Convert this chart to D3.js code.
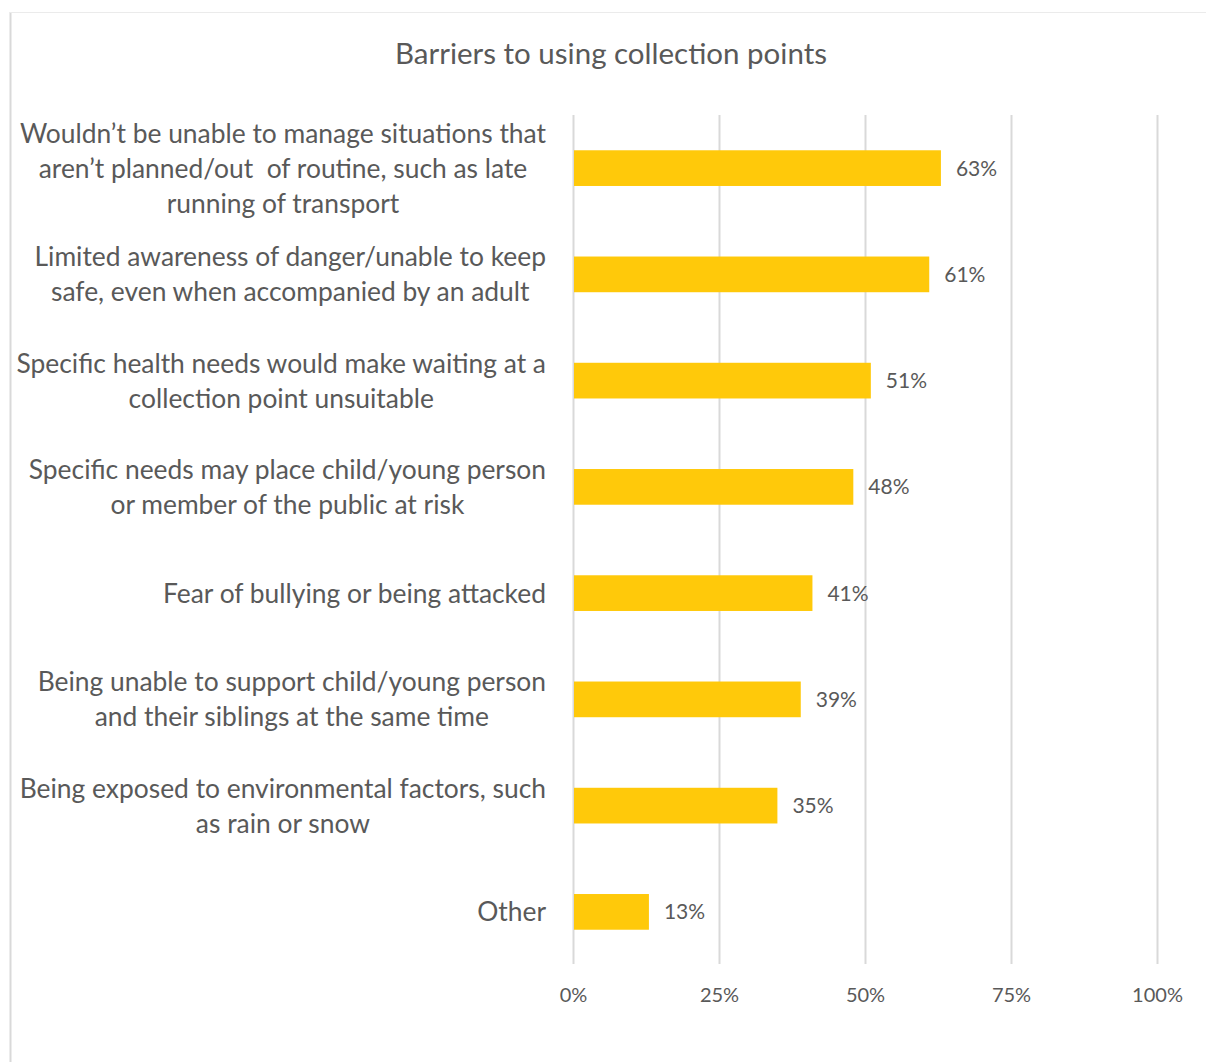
<!DOCTYPE html>
<html>
<head>
<meta charset="utf-8">
<script src="https://cdn.jsdelivr.net/npm/d3@7"></script>
<style>
  body { margin: 0; background: #fff; }
  svg { display: block; }
  text { font-family: Lato, "Open Sans", sans-serif; fill: #595959; white-space: pre; }
</style>
</head>
<body>
<svg id="chart" width="1206" height="1062"></svg>
<script>
// ---- data ----
const chartTitle = "Barriers to using collection points";

// category labels, already wrapped into lines
const categories = [
  ["Wouldn’t be unable to manage situations that", "aren’t planned/out  of routine, such as late", "running of transport"],
  ["Limited awareness of danger/unable to keep", "safe, even when accompanied by an adult"],
  ["Specific health needs would make waiting at a", "collection point unsuitable"],
  ["Specific needs may place child/young person", "or member of the public at risk"],
  ["Fear of bullying or being attacked"],
  ["Being unable to support child/young person", "and their siblings at the same time"],
  ["Being exposed to environmental factors, such", "as rain or snow"],
  ["Other"]
];

const shares = [0.63, 0.61, 0.51, 0.48, 0.41, 0.39, 0.35, 0.13];

const tickValues = [0, 0.25, 0.5, 0.75, 1];

// ---- layout ----
const W = 1206, H = 1062;
const plot = { left: 573, right: 1157, top: 115, bottom: 965 };
const colors = { bar: "#FFC90A", grid: "#D9D9D9", frame: "#D9D9D9", text: "#595959" };
const pct = d3.format(".0%");

const svg = d3.select("#chart");

// chart frame (top and left edges visible)
svg.append("line").attr("x1", 10.5).attr("x2", 10.5).attr("y1", 12).attr("y2", H)
  .attr("stroke", colors.frame).attr("stroke-width", 2);
svg.append("line").attr("x1", 10).attr("x2", W).attr("y1", 12.5).attr("y2", 12.5)
  .attr("stroke", "#EBEBEB").attr("stroke-width", 1);

// title
svg.append("text")
  .attr("x", 611).attr("y", 64)
  .attr("text-anchor", "middle")
  .style("font-size", "29.5px")
  .text(chartTitle);

const x = d3.scaleLinear().domain([0, 1]).range([plot.left, plot.right]);
const y = d3.scaleBand()
  .domain(d3.range(categories.length))
  .range([plot.top, plot.bottom])
  .paddingInner(0.664)
  .paddingOuter(0.332);

// vertical gridlines + percentage labels via a bottom axis
const axis = d3.axisBottom(x).tickValues(tickValues).tickFormat(pct).tickSize(0).tickPadding(0);
const gAxis = svg.append("g").attr("transform", `translate(0,${plot.bottom})`).call(axis);
gAxis.select(".domain").remove();
gAxis.selectAll(".tick text")
  .attr("y", 37).attr("dy", null)
  .style("font-size", "20px").style("font-family", null).attr("fill", null);

svg.append("g").selectAll("line").data(tickValues).join("line")
  .attr("x1", d => Math.round(x(d)) + 0.5).attr("x2", d => Math.round(x(d)) + 0.5)
  .attr("y1", plot.top).attr("y2", plot.bottom - 1)
  .attr("stroke", colors.grid).attr("stroke-width", 2);

// bars
svg.append("g").selectAll("rect").data(shares).join("rect")
  .attr("x", x(0) + 1)
  .attr("y", (d, i) => y(i))
  .attr("width", d => x(d) - x(0) - 1)
  .attr("height", y.bandwidth())
  .attr("fill", colors.bar);

// value labels
const valueSize = 21;
svg.append("g").selectAll("text").data(shares).join("text")
  .attr("x", d => x(d) + 15)
  .attr("y", (d, i) => y(i) + y.bandwidth() / 2 + valueSize * 0.36)
  .style("font-size", valueSize + "px")
  .text(d => pct(d));

// category labels: lines centred on each other, block right-aligned to the axis
const catSize = 26.4, lineH = 35, labelRight = 546;
categories.forEach((lines, i) => {
  const cy = y(i) + y.bandwidth() / 2;
  const g = svg.append("g");
  const texts = g.selectAll("text").data(lines).join("text")
    .style("font-size", catSize + "px")
    .attr("text-anchor", "middle")
    .attr("y", (d, k) => cy + (k - (lines.length - 1) / 2) * lineH + catSize * 0.36)
    .text(d => d);
  let maxW = 0;
  texts.each(function () { maxW = Math.max(maxW, this.getComputedTextLength()); });
  texts.attr("x", labelRight - maxW / 2);
});
</script>
</body>
</html>
